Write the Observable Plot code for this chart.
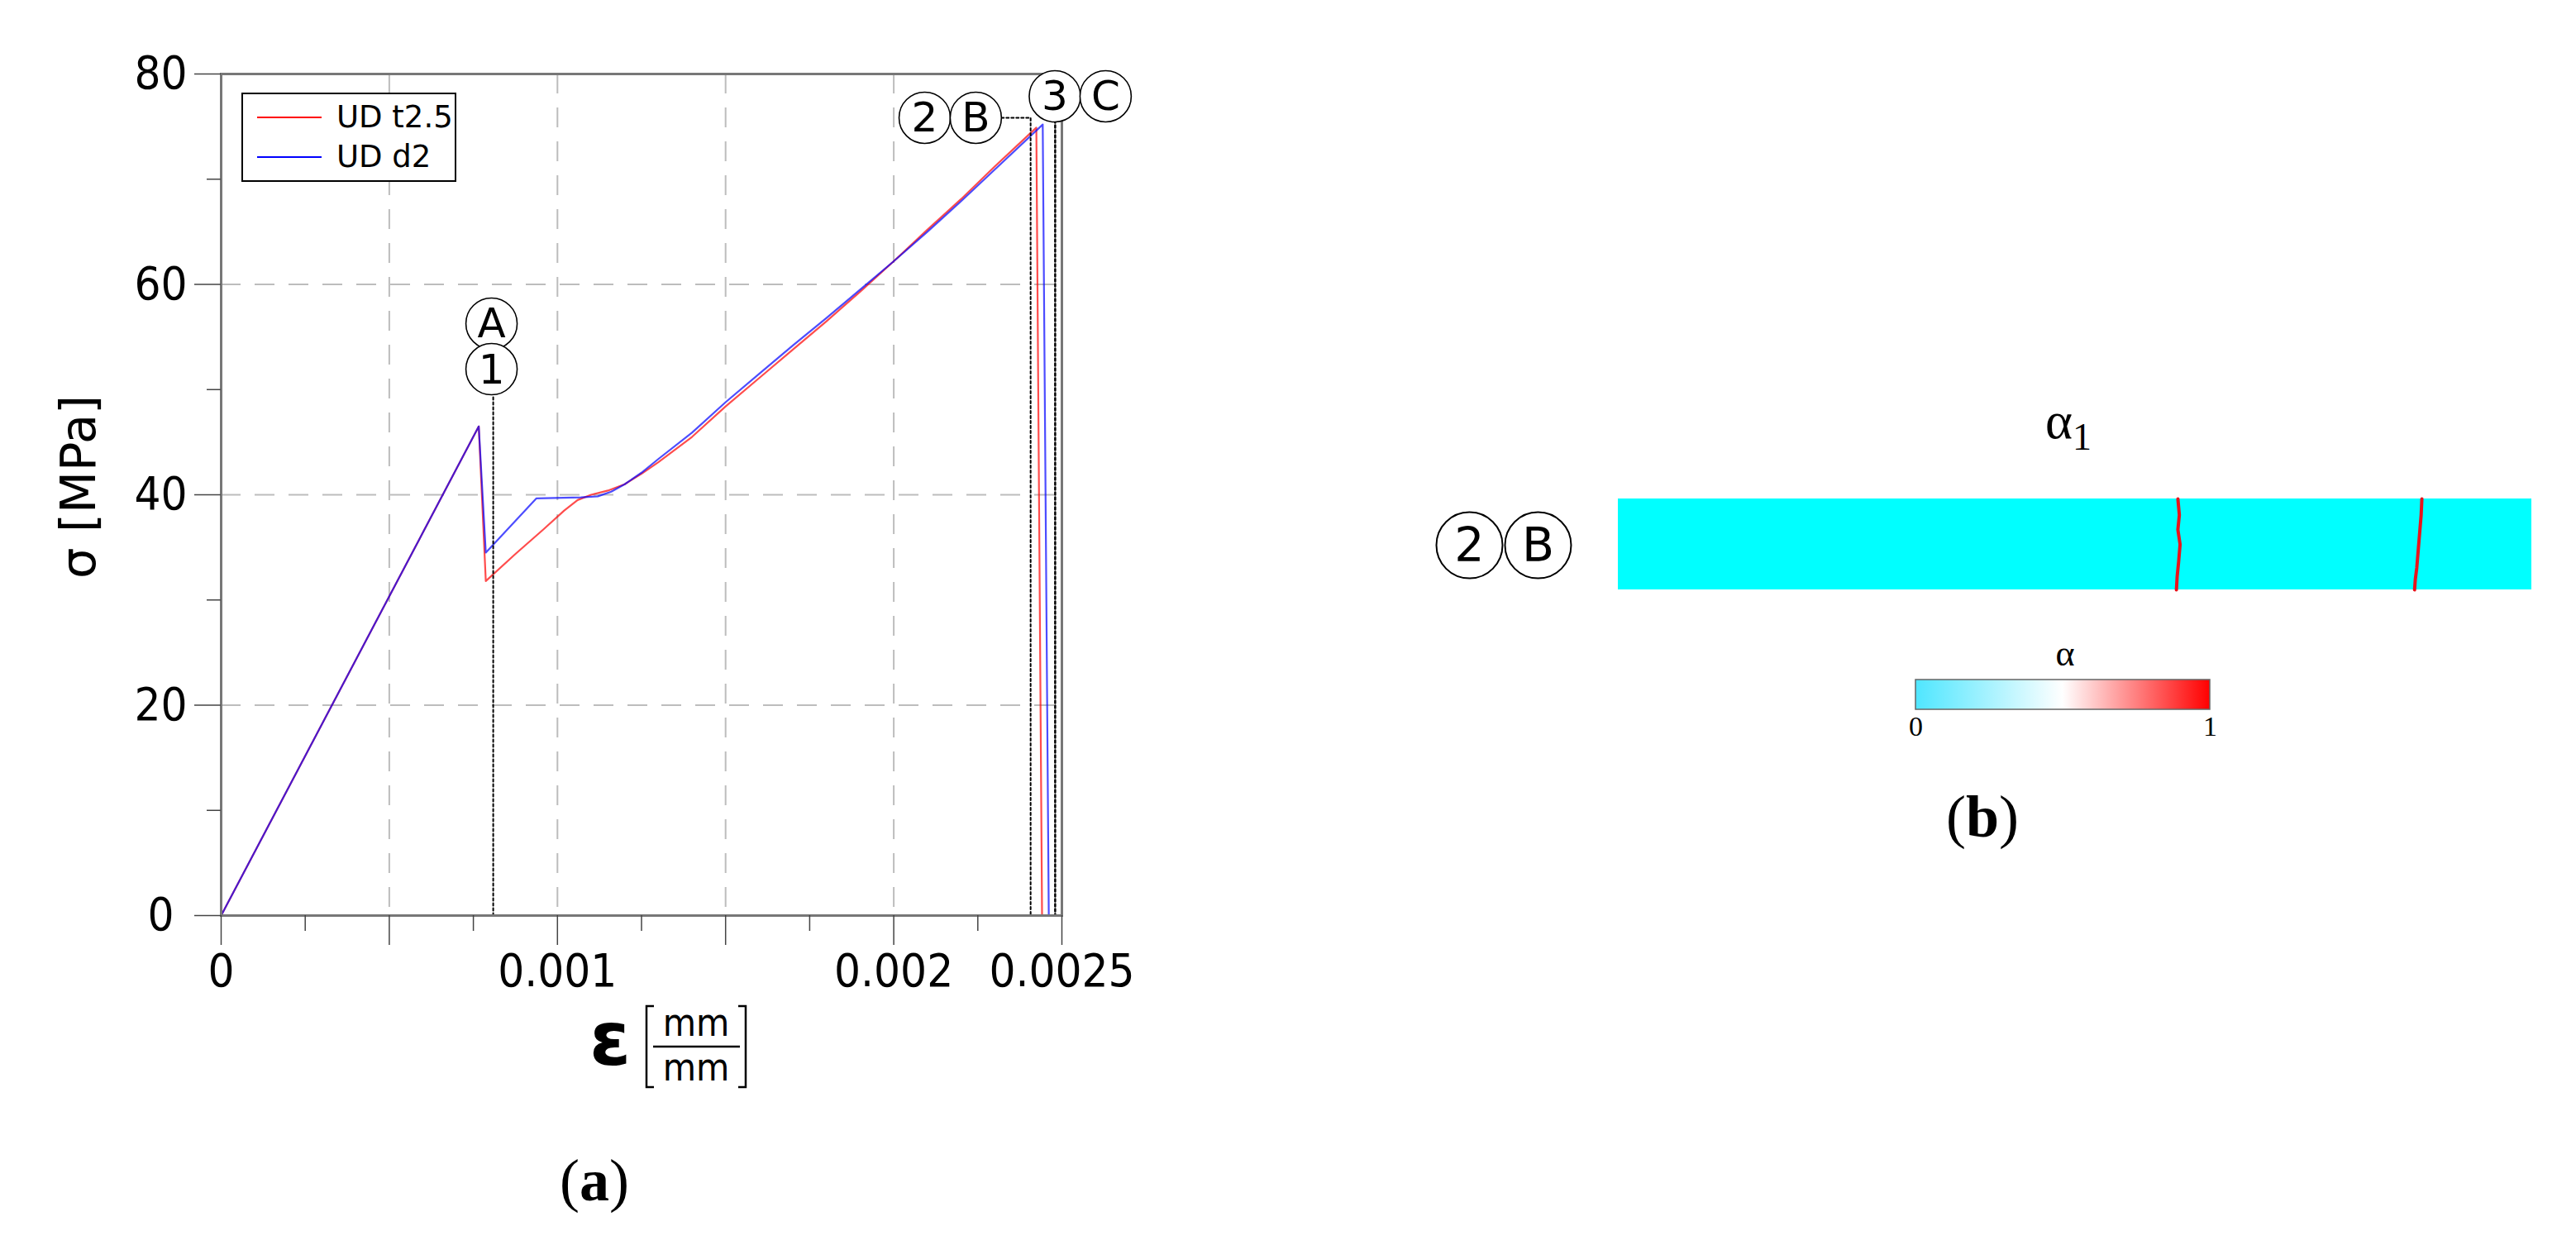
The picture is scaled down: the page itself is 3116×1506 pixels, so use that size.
<!DOCTYPE html>
<html><head><meta charset="utf-8">
<script src="https://cdn.jsdelivr.net/npm/d3@7"></script>
<script src="https://cdn.jsdelivr.net/npm/@observablehq/plot@0.6"></script>
<style>
html,body{margin:0;padding:0;background:#fff;}
#page{position:relative;width:3116px;height:1506px;background:#fff;overflow:hidden;}
#page > svg{position:absolute;}
</style></head><body><div id="page"></div>
<script>
// ---------- data: panel (a) ----------
const seriesNames = ["UD t2.5", "UD d2"];
const seriesColors = ["#ff0000", "#0000ff"];
const strainT25 = [0, 0.000766, 0.000787, 0.000876, 0.000958, 0.00102, 0.00106, 0.0011, 0.00115, 0.0012, 0.00125, 0.0013, 0.0014, 0.0015, 0.0016, 0.0017, 0.0018, 0.0019, 0.002, 0.0021, 0.0022, 0.0023, 0.002424, 0.002441, 0.0025];
const stressT25 = [0, 46.5, 31.8, 34.4, 36.7, 38.5, 39.5, 40.0, 40.4, 41.0, 42.0, 43.1, 45.5, 48.4, 51.1, 53.8, 56.5, 59.3, 62.2, 65.2, 68.1, 71.2, 74.9, 0, 0];
const strainD2 = [0, 0.000766, 0.000787, 0.000937, 0.00107, 0.00112, 0.00116, 0.0012, 0.00125, 0.0013, 0.0014, 0.0015, 0.0016, 0.0017, 0.0018, 0.0019, 0.002, 0.0021, 0.0022, 0.0023, 0.002443, 0.002461, 0.0025];
const stressD2 = [0, 46.5, 34.5, 39.65, 39.75, 39.85, 40.3, 41.0, 42.1, 43.4, 45.9, 48.8, 51.5, 54.2, 56.8, 59.5, 62.2, 65.0, 67.9, 70.9, 75.2, 0, 0];

const xTicks = [0, 0.0005, 0.001, 0.0015, 0.002, 0.0025];
const xTickLabels = ["0", "", "0.001", "", "0.002", "0.0025"];
const xMinorTicks = [0.00025, 0.00075, 0.00125, 0.00175, 0.00225];
const yTicks = [0, 20, 40, 60, 80];
const yTickLabels = ["0", "20", "40", "60", "80"];
const yMinorTicks = [10, 30, 50, 70];
const xGrid = [0.0005, 0.001, 0.0015, 0.002];
const yGrid = [20, 40, 60];

const markerLabels = ["A", "1", "2", "B", "3", "C"];
const markerStrain = [0.000804, 0.000804, 0.002092, 0.002244, 0.002479, 0.002630];
const markerStress = [56.27, 51.94, 75.84, 75.84, 77.88, 77.88];

const guideAStrain = [0.000809, 0.000809];
const guideAStress = [0, 49.5];
const guideBStrain = [0.00232, 0.002407, 0.002407];
const guideBStress = [75.84, 75.84, 0];
const guide3Strain = [0.00248, 0.00248];
const guide3Stress = [75.6, 0];

// ---------- data: panel (b) ----------
const barExtent = [{x1: 0, x2: 1, y1: 0, y2: 1}];
const crack1X = [0.6126, 0.6142, 0.6126, 0.615, 0.6134, 0.6118, 0.611];
const crack1Y = [1, 0.823, 0.661, 0.5, 0.306, 0.145, 0];
const crack2X = [0.8797, 0.8789, 0.8773, 0.8757, 0.8741, 0.8725, 0.8717];
const crack2Y = [1, 0.823, 0.629, 0.435, 0.242, 0.113, 0];
const stateLabels = ["2", "B"];
const stateX = [-0.1629, -0.0878];
const stateY = [0.49, 0.49];
const cbStops = [0, 0.5, 1];
const cbColors = ["#4fe6ff", "#ffffff", "#ff0000"];
const cbTicks = [0, 1];
const cbTickLabels = ["0", "1"];

// ---------- helpers ----------
const rows = (xs, ys) => xs.map((x, i) => ({x, y: ys[i]}));
const page = document.getElementById("page");
const sans = "'DejaVu Sans Condensed', 'DejaVu Sans', sans-serif";
const dotted = {stroke: "#000", strokeWidth: 2, strokeDasharray: "3,3"};

// ---------- panel (a) ----------
const markers = markerLabels.map((t, i) => ({t, x: markerStrain[i], y: markerStress[i]}));
const plotA = Plot.plot({
  width: 1450, height: 1340,
  marginLeft: 267, marginRight: 166, marginTop: 89, marginBottom: 233,
  x: {domain: [0, 0.0025], label: null},
  y: {domain: [0, 80], label: null},
  style: {fontFamily: sans, fontSize: "56px", background: "transparent", overflow: "visible", color: "#000"},
  marks: [
    Plot.gridX(xGrid, {stroke: "#bdbdbd", strokeOpacity: 1, strokeWidth: 2, strokeDasharray: "24,17"}),
    Plot.gridY(yGrid, {stroke: "#bdbdbd", strokeOpacity: 1, strokeWidth: 2, strokeDasharray: "24,17"}),
    Plot.line(rows(strainT25, stressT25), {x: "x", y: "y", stroke: seriesColors[0], strokeWidth: 2.2, strokeOpacity: 0.7}),
    Plot.line(rows(strainD2, stressD2), {x: "x", y: "y", stroke: seriesColors[1], strokeWidth: 2.2, strokeOpacity: 0.7}),
    Plot.line(rows(guideAStrain, guideAStress), {x: "x", y: "y", ...dotted}),
    Plot.line(rows(guideBStrain, guideBStress), {x: "x", y: "y", ...dotted}),
    Plot.line(rows(guide3Strain, guide3Stress), {x: "x", y: "y", ...dotted, strokeWidth: 2.5}),
    Plot.frame({stroke: "#777", strokeWidth: 3}),
    Plot.axisX(xTicks, {anchor: "bottom", tickSize: 36, tickPadding: 10, stroke: "#444", strokeWidth: 1.5, label: null,
      tickFormat: d => xTickLabels[xTicks.indexOf(d)]}),
    Plot.axisX(xMinorTicks, {anchor: "bottom", tickSize: 19, stroke: "#444", strokeWidth: 1.5, label: null, tickFormat: () => ""}),
    Plot.axisY(yTicks, {anchor: "left", tickSize: 32, tickPadding: 41, textAnchor: "middle", stroke: "#444", strokeWidth: 1.5, label: null,
      tickFormat: d => yTickLabels[yTicks.indexOf(d)]}),
    Plot.axisY(yMinorTicks, {anchor: "left", tickSize: 17, stroke: "#444", strokeWidth: 1.5, label: null, tickFormat: () => ""}),
    Plot.dot(markers, {x: "x", y: "y", r: 31, fill: "white", stroke: "#000", strokeWidth: 1.6}),
    Plot.text(markers, {x: "x", y: "y", text: "t", fontSize: 50, fontFamily: "'DejaVu Sans', sans-serif", fill: "#000", dy: 1})
  ]
});
plotA.style.left = "0px"; plotA.style.top = "0px";
page.appendChild(plotA);

// ---------- panel (b) ----------
const states = stateLabels.map((t, i) => ({t, x: stateX[i], y: stateY[i]}));
const plotB = Plot.plot({
  width: 1416, height: 300,
  marginLeft: 257, marginRight: 54, marginTop: 123, marginBottom: 67,
  x: {domain: [0, 1], axis: null},
  y: {domain: [0, 1], axis: null},
  style: {background: "transparent", overflow: "visible"},
  marks: [
    Plot.rect(barExtent, {x1: "x1", x2: "x2", y1: "y1", y2: "y2", fill: "#00ffff"}),
    Plot.line(rows(crack1X, crack1Y), {x: "x", y: "y", stroke: "#e8141c", strokeWidth: 4}),
    Plot.line(rows(crack2X, crack2Y), {x: "x", y: "y", stroke: "#e8141c", strokeWidth: 4}),
    Plot.dot(states, {x: "x", y: "y", r: 40, fill: "white", stroke: "#000", strokeWidth: 2}),
    Plot.text(states, {x: "x", y: "y", text: "t", fontSize: 57, fontFamily: "'DejaVu Sans', sans-serif", fill: "#000", dy: 1})
  ]
});
plotB.style.left = "1700px"; plotB.style.top = "480px";
page.appendChild(plotB);

// ---------- colour bar ----------
const cb = Plot.plot({
  width: 396, height: 138,
  marginLeft: 20, marginRight: 20, marginTop: 62, marginBottom: 40,
  x: {domain: [0, 1], label: null},
  y: {domain: [0, 1], axis: null},
  style: {fontFamily: "'Liberation Serif', serif", fontSize: "34px", background: "transparent", overflow: "visible", color: "#000"},
  marks: [
    Plot.rect(barExtent, {x1: "x1", x2: "x2", y1: "y1", y2: "y2", fill: "#ccc", stroke: "#666", strokeWidth: 1.5}),
    Plot.axisX(cbTicks, {anchor: "bottom", tickSize: 0, tickPadding: 7, label: null,
      tickFormat: d => cbTickLabels[cbTicks.indexOf(d)]})
  ]
});
const cbSel = d3.select(cb);
const grad = cbSel.insert("defs", ":first-child").append("linearGradient").attr("id", "alphaGrad")
  .attr("x1", "0%").attr("x2", "100%").attr("y1", "0%").attr("y2", "0%");
cbStops.forEach((s, i) => grad.append("stop").attr("offset", s).attr("stop-color", cbColors[i]));
cbSel.selectAll("g[aria-label=rect] rect").attr("fill", "url(#alphaGrad)");
cb.style.left = "2297px"; cb.style.top = "760px";
page.appendChild(cb);

// ---------- overlay: titles, axis titles, legend ----------
const ov = d3.select(page).append("svg").attr("width", 3116).attr("height", 1506)
  .style("left", "0px").style("top", "0px").style("overflow", "visible");

// y-axis title
ov.append("text").attr("transform", "translate(115,589) rotate(-90)").attr("text-anchor", "middle")
  .attr("font-family", "'DejaVu Sans', sans-serif").attr("font-size", 59).text("σ [MPa]");

// x-axis title  ε [mm/mm]
ov.append("text").attr("x", 713).attr("y", 1288).attr("font-family", "'DejaVu Sans', sans-serif")
  .attr("font-size", 90).attr("font-weight", "bold").text("ε");
ov.append("path").attr("d", "M791,1217H782V1315H791").attr("fill", "none").attr("stroke", "#000").attr("stroke-width", 2.5);
ov.append("path").attr("d", "M893,1217H902V1315H893").attr("fill", "none").attr("stroke", "#000").attr("stroke-width", 2.5);
ov.append("text").attr("x", 842).attr("y", 1253).attr("text-anchor", "middle").attr("font-family", sans).attr("font-size", 46).text("mm");
ov.append("line").attr("x1", 790).attr("x2", 895).attr("y1", 1266).attr("y2", 1266).attr("stroke", "#000").attr("stroke-width", 2.5);
ov.append("text").attr("x", 842).attr("y", 1307).attr("text-anchor", "middle").attr("font-family", sans).attr("font-size", 46).text("mm");

// legend
const lg = ov.append("g");
lg.append("rect").attr("x", 293).attr("y", 113).attr("width", 258).attr("height", 106).attr("fill", "#fff").attr("stroke", "#000").attr("stroke-width", 2);
[142, 190].forEach((y, i) => {
  lg.append("line").attr("x1", 311).attr("x2", 389).attr("y1", y).attr("y2", y).attr("stroke", seriesColors[i]).attr("stroke-width", 2);
  lg.append("text").attr("x", 407).attr("y", y + 12).attr("font-family", "'DejaVu Sans', sans-serif").attr("font-size", 37).text(seriesNames[i]);
});

// panel captions
const capA = ov.append("text").attr("x", 719).attr("y", 1452).attr("text-anchor", "middle").attr("font-family", "'Liberation Serif', serif").attr("font-size", 72);
capA.append("tspan").text("(");
capA.append("tspan").attr("font-weight", "bold").text("a");
capA.append("tspan").text(")");
const capB = ov.append("text").attr("x", 2398).attr("y", 1012).attr("text-anchor", "middle").attr("font-family", "'Liberation Serif', serif").attr("font-size", 72);
capB.append("tspan").text("(");
capB.append("tspan").attr("font-weight", "bold").text("b");
capB.append("tspan").text(")");

// panel (b) titles
const t1 = ov.append("text").attr("x", 2474).attr("y", 530).attr("font-family", "'Liberation Serif', serif").attr("font-size", 63);
t1.append("tspan").text("α");
t1.append("tspan").attr("font-size", 46).attr("dy", 14).text("1");
ov.append("text").attr("x", 2498).attr("y", 805).attr("text-anchor", "middle").attr("font-family", "'Liberation Serif', serif").attr("font-size", 44).text("α");
</script>
</body></html>
